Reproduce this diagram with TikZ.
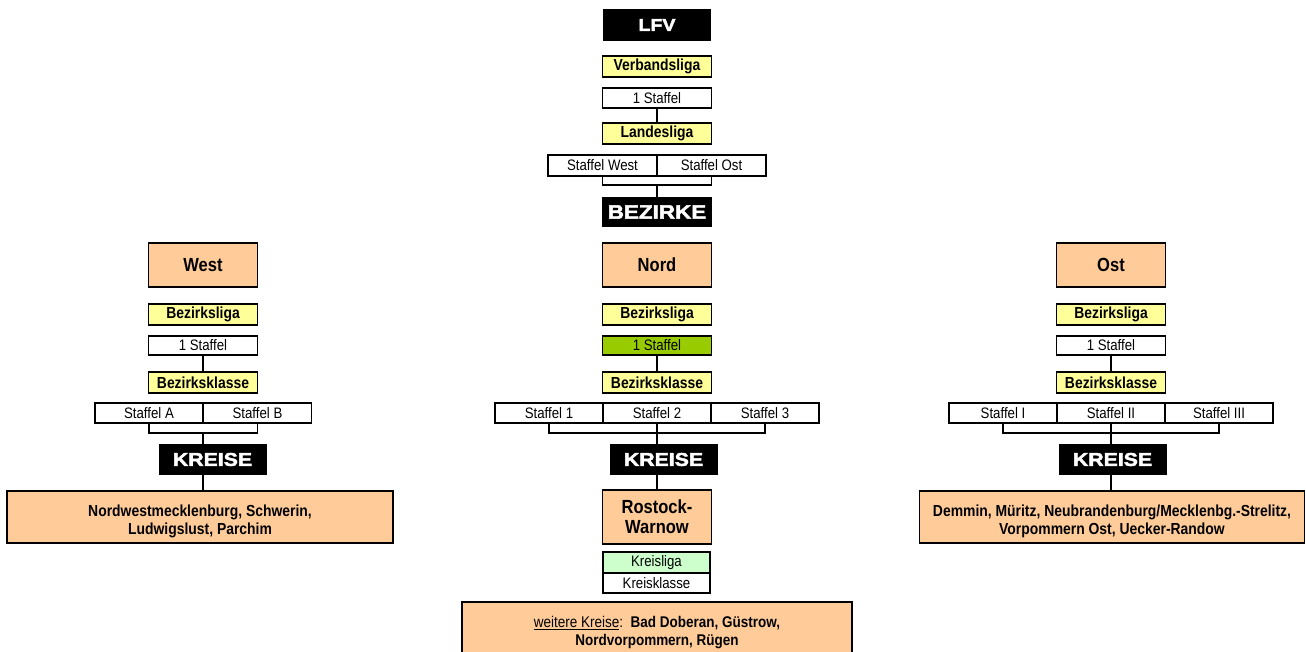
\documentclass[tikz,border=0pt]{standalone}
\usepackage{fontspec}
\setmainfont{Liberation Sans}[FakeStretch=0.87]
\newfontfamily\heavyfont{Liberation Sans Bold}[FakeBold=2.5,FakeStretch=1.15]
\definecolor{ligayellow}{HTML}{FFFF99}
\definecolor{regionorange}{HTML}{FFCC99}
\definecolor{staffelgreen}{HTML}{99CC00}
\definecolor{kreisgreen}{HTML}{CCFFCC}
\begin{document}
\begin{tikzpicture}[x=1pt,y=-1pt,
    box/.style={draw, line width=1.5pt, inner sep=0pt, minimum width=109pt, minimum height=21pt, font=\fontsize{15.2}{16}\selectfont},
    liga/.style={box, fill=ligayellow, font=\fontsize{16}{17}\selectfont\bfseries},
    region/.style={box, fill=regionorange, minimum height=44pt, align=center, font=\fontsize{19}{20}\selectfont\bfseries},
    kreislist/.style={box, fill=regionorange, minimum width=386pt, minimum height=52pt, align=center, font=\fontsize{16}{18}\selectfont\bfseries},
    darkbox/.style={fill=black, text=white, inner sep=0pt, minimum width=108pt, minimum height=31pt, font=\heavyfont\fontsize{18.5}{20}\selectfont},
    link/.style={line width=1.5pt}]
    \useasboundingbox (0,0) rectangle (1306,652);
    % Landesebene
    \node[darkbox, minimum height=32pt, font=\heavyfont\fontsize{17}{18}\selectfont] (lfv) at (657,25) {LFV};
    \node[liga] (vliga) at (657,66.5) {Verbandsliga};
    \node[box, minimum height=20pt] (vstaffel) at (657,98) {1 Staffel};
    \node[liga] (lliga) at (657,133.5) {Landesliga};
    \node[box] (lwest) at (602.5,165.5) {Staffel West};
    \node[box] (lost) at (711.5,165.5) {Staffel Ost};
    \node[darkbox, minimum width=110pt, minimum height=30pt, font=\heavyfont\fontsize{19.5}{22}\selectfont] (bezirke) at (657,212) {BEZIRKE};
    \coordinate (lknot) at (657,185);
    \draw[link] (vstaffel) -- (lliga);
    \draw[link] (lwest.south) |- (lknot) -| (lost.south);
    \draw[link] (lknot) -- (bezirke);
    % Bezirke
    \foreach \r/\x/\k/\name/\fc in {w/203/212.5/West/white, n/657/663.5/Nord/staffelgreen, o/1111/1112.5/Ost/white}{
        \node[region] (head-\r) at (\x,265) {\name};
        \node[liga] (bliga-\r) at (\x,314.5) {Bezirksliga};
        \node[box, fill=\fc, minimum height=19pt] (staffel-\r) at (\x,345.5) {1 Staffel};
        \node[liga] (bklasse-\r) at (\x,382.5) {Bezirksklasse};
        \node[darkbox] (kreise-\r) at (\k,459.5) {KREISE};
        \draw[link] (staffel-\r) -- (bklasse-\r);
    }
    \node[box, minimum width=108pt, minimum height=20pt] (wa) at (149,413) {Staffel A};
    \node[box, minimum width=108pt, minimum height=20pt] (wb) at (257.5,413) {Staffel B};
    \node[box, minimum width=108pt, minimum height=20pt] (n1) at (549,413) {Staffel 1};
    \node[box, minimum width=108pt, minimum height=20pt] (n2) at (657,413) {Staffel 2};
    \node[box, minimum width=108pt, minimum height=20pt] (n3) at (765,413) {Staffel 3};
    \node[box, minimum width=108pt, minimum height=20pt] (o1) at (1003,413) {Staffel I};
    \node[box, minimum width=108pt, minimum height=20pt] (o2) at (1111,413) {Staffel II};
    \node[box, minimum width=108pt, minimum height=20pt] (o3) at (1219,413) {Staffel III};
    \coordinate (wknot) at (203,433);
    \coordinate (nknot) at (657,433);
    \coordinate (oknot) at (1111,433);
    \draw[link] (wa.south) |- (wknot) -| (wb.south);
    \draw[link] (wknot) -- (wknot |- kreise-w.north);
    \draw[link] (n1.south) |- (nknot) -| (n3.south);
    \draw[link] (n2.south) -- (nknot) -- (nknot |- kreise-n.north);
    \draw[link] (o1.south) |- (oknot) -| (o3.south);
    \draw[link] (o2.south) -- (oknot) -- (oknot |- kreise-o.north);
    % Kreise
    \node[kreislist] (kw) at (200,517) {\rule{0pt}{21pt}Nordwestmecklenburg, Schwerin,\\Ludwigslust, Parchim};
    \node[kreislist, minimum width=385pt] (ko) at (1112,517) {\rule{0pt}{21pt}Demmin, Müritz, Neubrandenburg/Mecklenbg.-Strelitz,\\Vorpommern Ost, Uecker-Randow};
    \node[region, minimum height=54pt] (rostock) at (657,517) {Rostock-\\Warnow};
    \node[box, fill=kreisgreen, minimum width=107pt] (kliga) at (656.5,562.5) {Kreisliga};
    \node[box, minimum width=107pt, minimum height=20pt] (kklasse) at (656.5,583) {Kreisklasse};
    \node[kreislist, minimum width=390pt, minimum height=62pt, font=\fontsize{15.5}{18}\selectfont] (weitere) at (657,633)
        {\underline{weitere Kreise}:\ \ \textbf{Bad Doberan, Güstrow,}\\\textbf{Nordvorpommern, Rügen}};
    \draw[link] (kreise-w.south -| wknot) -- (wknot |- kw.north);
    \draw[link] (kreise-n.south -| nknot) -- (nknot |- rostock.north);
    \draw[link] (kreise-o.south -| oknot) -- (oknot |- ko.north);
\end{tikzpicture}
\end{document}
